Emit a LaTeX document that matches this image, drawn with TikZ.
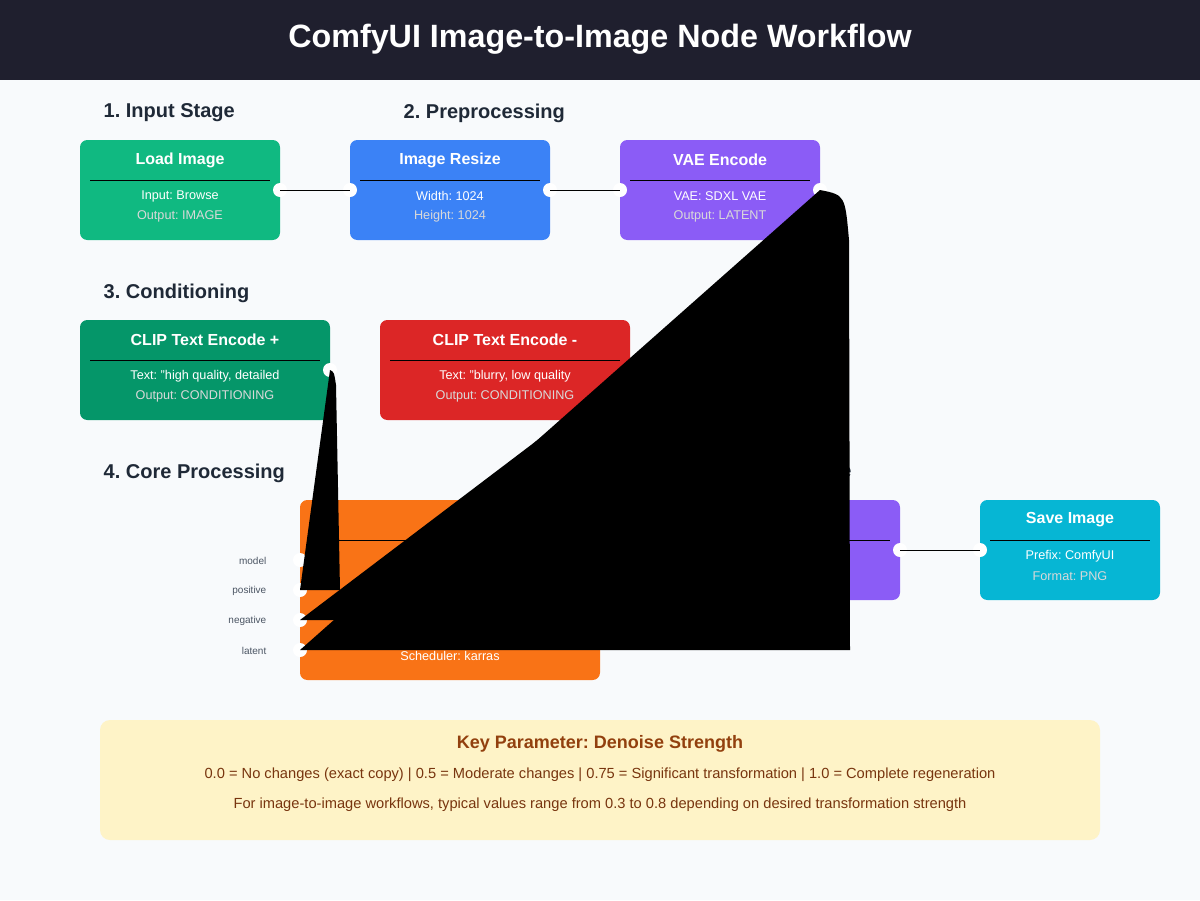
\documentclass[tikz,border=0pt]{standalone}
\usepackage{fontspec}
\setmainfont{Liberation Sans}
\frenchspacing
\definecolor{bg}{HTML}{F8FAFC}
\definecolor{hdr}{HTML}{1F1F2E}
\definecolor{sec}{HTML}{1F2937}
\definecolor{cgreen}{HTML}{10B981}
\definecolor{cblue}{HTML}{3B82F6}
\definecolor{cpurple}{HTML}{8B5CF6}
\definecolor{cdgreen}{HTML}{059669}
\definecolor{cred}{HTML}{DC2626}
\definecolor{corange}{HTML}{F97316}
\definecolor{ccyan}{HTML}{06B6D4}
\definecolor{notebg}{HTML}{FEF3C7}
\definecolor{notetitle}{HTML}{92400E}
\definecolor{notetext}{HTML}{78350F}
\definecolor{lbl}{HTML}{4B5563}
\tikzset{
 ttl/.style={text=white,font=\bfseries\fontsize{12}{14}\selectfont},
 body/.style={text=white,font=\fontsize{9.5}{11}\selectfont},
 body2/.style={text=white!85!black,font=\fontsize{9.5}{11}\selectfont},
 sectxt/.style={text=sec,font=\bfseries\fontsize{15}{18}\selectfont,anchor=west},
 port/.style={circle,fill=white,inner sep=0pt,minimum size=10.5pt},
 plbl/.style={text=lbl,font=\fontsize{7.5}{9}\selectfont,anchor=east},
 wire/.style={draw=black,line width=0.75pt},
 blob/.style={fill=black}
}
\begin{document}
\begin{tikzpicture}[x=0.75pt,y=-0.75pt]
\fill[bg] (0,0) rectangle (1200,900);
\useasboundingbox (0,0) rectangle (1200,900);
\fill[hdr] (0,0) rectangle (1200,80);
\node[text=white,font=\bfseries\fontsize{24.2}{28}\selectfont] (title) at (600,39) {ComfyUI Image-to-Image Node Workflow};

\node[sectxt] (s1) at (99,113) {1. Input Stage};
\node[sectxt] (s2) at (399,113) {2. Preprocessing};
\node[sectxt] (s3) at (99,293) {3. Conditioning};
\node[sectxt] (s4) at (99,473) {4. Core Processing};
\node[sectxt] (s5) at (699,473) {5. Output Stage};

\newcommand{\wfnode}[9]{%
 \fill[#2,rounded corners=5.5pt] (#3,#4) rectangle (#5,#6);
 \node[ttl] (#1t) at ({(#3+#5)/2},{#4+20}) {#7};
 \draw[black,line width=0.75pt] ({#3+10},{#4+40}) -- ({#5-10},{#4+40});
 \node[body] (#1a) at ({(#3+#5)/2},{#4+56}) {#8};
 \node[body2] (#1b) at ({(#3+#5)/2},{#4+76}) {#9};
}
\wfnode{load}{cgreen}{80}{140}{280}{240}{Load Image}{Input: Browse}{Output: IMAGE}
\wfnode{resize}{cblue}{350}{140}{550}{240}{Image Resize}{Width: 1024}{Height: 1024}
\wfnode{enc}{cpurple}{620}{140}{820}{240}{VAE Encode}{VAE: SDXL VAE}{Output: LATENT}
\wfnode{clipp}{cdgreen}{80}{320}{330}{420}{CLIP Text Encode +}{Text: "high quality, detailed}{Output: CONDITIONING}
\wfnode{clipn}{cred}{380}{320}{630}{420}{CLIP Text Encode -}{Text: "blurry, low quality}{Output: CONDITIONING}
\wfnode{dec}{cpurple}{700}{500}{900}{600}{VAE Decode}{VAE: SDXL VAE}{Output: IMAGE}
\wfnode{save}{ccyan}{980}{500}{1160}{600}{Save Image}{Prefix: ComfyUI}{Format: PNG}

% KSampler
\fill[corange,rounded corners=5.5pt] (300,500) rectangle (600,680);
\draw[black,line width=0.75pt] (310,540) -- (590,540);
\node[body] (ksched) at (450,656) {Scheduler: karras};

% ports
\node[port] (p1) at (280,190) {};
\node[port] (p2) at (350,190) {};
\node[port] (p3) at (550,190) {};
\node[port] (p4) at (620,190) {};
\node[port] (p5) at (820,190) {};
\node[port] (p6) at (330,370) {};
\node[port] (p7) at (630,370) {};
\node[port] (km) at (300,560) {};
\node[port] (kp) at (300,590) {};
\node[port] (kn) at (300,620) {};
\node[port] (kl) at (300,650) {};
\node[port] (d1) at (700,550) {};
\node[port] (d2) at (900,550) {};
\node[port] (sv) at (980,550) {};
\coordinate (kout) at (600,550);

\node[plbl] (lm) at (271,561) {model};
\node[plbl] (lp) at (271,591) {positive};
\node[plbl] (ln) at (271,621) {negative};
\node[plbl] (ll) at (271,651) {latent};

% connectors
\draw[wire] (p1.center) -- (p2.center);
\draw[wire] (p3.center) -- (p4.center);
\draw[wire] (d2.center) -- (sv.center);
\fill[blob] (kout) -- (d1.center) -- cycle;
\fill[blob] (p6.center) .. controls (334,372) .. (336,385) -- (340,590) -- (kp.center) -- cycle;
\fill[blob] (p7.center) .. controls (650,375) .. (655,400) -- (655,620) -- (kn.center) -- cycle;
\fill[blob] (p5.center) .. controls (845,195) .. (849,240) -- (850,650) -- (kl.center) -- cycle;

% note
\fill[notebg,rounded corners=7.5pt] (100,720) rectangle (1100,840);
\node[text=notetitle,font=\bfseries\fontsize{13.5}{16}\selectfont] (nt) at (600,744) {Key Parameter: Denoise Strength};
\node[text=notetext,font=\fontsize{11}{13}\selectfont] (n1) at (600,775) {0.0 = No changes (exact copy) | 0.5 = Moderate changes | 0.75 = Significant transformation | 1.0 = Complete regeneration};
\node[text=notetext,font=\fontsize{11}{13}\selectfont] (n2) at (600,805) {For image-to-image workflows, typical values range from 0.3 to 0.8 depending on desired transformation strength};
\end{tikzpicture}
\end{document}
